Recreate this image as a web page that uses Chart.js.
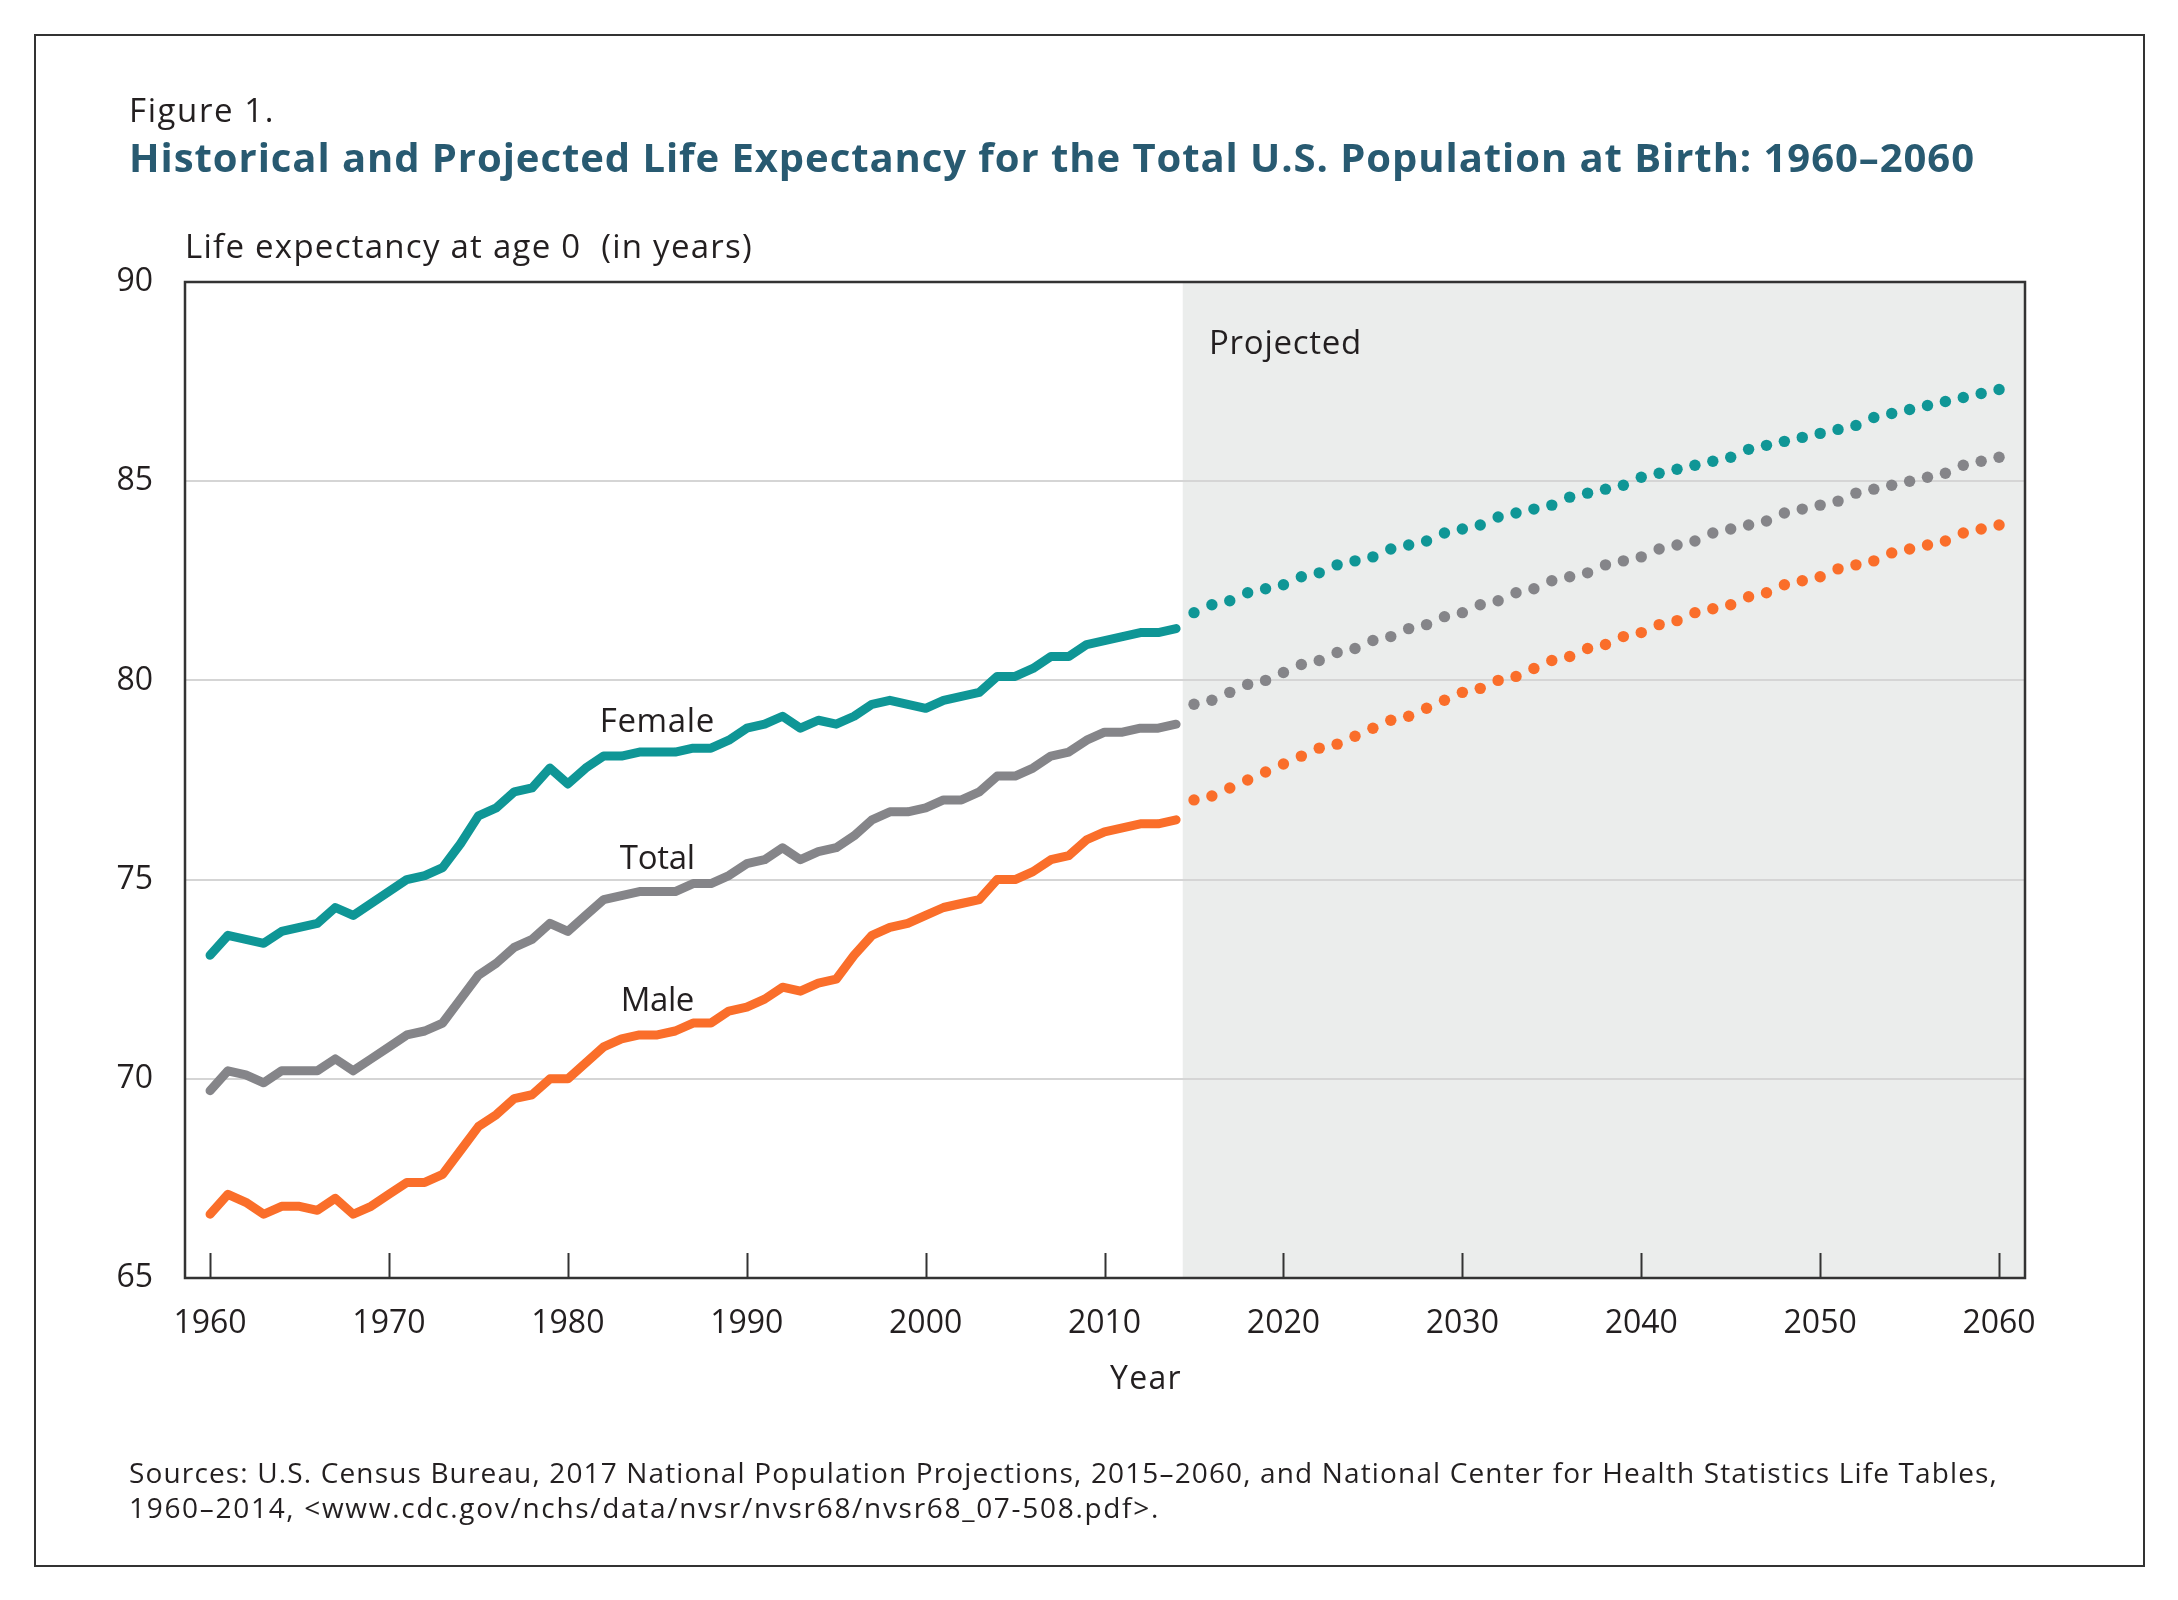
<!DOCTYPE html>
<html>
<head>
<meta charset="utf-8">
<script src="https://cdn.jsdelivr.net/npm/chart.js@4.4.1/dist/chart.umd.min.js"></script>
<style>
  body { margin: 0; width: 2178px; height: 1600px; background: #fff; position: relative; overflow: hidden;
         font-family: "Open Sans", sans-serif; color: #231f20; }
  #frame { position: absolute; left: 34px; top: 34px; width: 2111px; height: 1533px; box-sizing: border-box;
           border: 2.5px solid #333; }
  #chart { position: absolute; left: 0; top: 0; }
  .txt { position: absolute; white-space: pre; line-height: 1; z-index: 2; }
  #fig { left: 129px; top: 93px; font-size: 33px; }
  #title { left: 129px; top: 137px; font-size: 40px; font-weight: 700; color: #285a71; }
  #ytitle { left: 185px; top: 229px; font-size: 33px; }
  #xtitle { left: 1146px; top: 1361px; font-size: 32px; transform: translateX(-50%); }
  #src1 { left: 129px; top: 1458px; font-size: 28px; }
  #src2 { left: 129px; top: 1493px; font-size: 28px; }
</style>
</head>
<body>
<div id="frame"></div>
<canvas id="chart" width="2178" height="1600"></canvas>
<div class="txt" id="fig" data-w="146">Figure 1.</div>
<div class="txt" id="title" data-w="1846">Historical and Projected Life Expectancy for the Total U.S. Population at Birth: 1960–2060</div>
<div class="txt" id="ytitle" data-w="568">Life expectancy at age 0  (in years)</div>
<div class="txt" id="xtitle" data-w="72">Year</div>
<div class="txt" id="src1" data-w="1869">Sources: U.S. Census Bureau, 2017 National Population Projections, 2015–2060, and National Center for Health Statistics Life Tables,</div>
<div class="txt" id="src2" data-w="1031">1960–2014, &lt;www.cdc.gov/nchs/data/nvsr/nvsr68/nvsr68_07-508.pdf&gt;.</div>
<script>
// historical values (NCHS life tables)
const histYears = [1960,1961,1962,1963,1964,1965,1966,1967,1968,1969,
  1970,1971,1972,1973,1974,1975,1976,1977,1978,1979,
  1980,1981,1982,1983,1984,1985,1986,1987,1988,1989,
  1990,1991,1992,1993,1994,1995,1996,1997,1998,1999,
  2000,2001,2002,2003,2004,2005,2006,2007,2008,2009,
  2010,2011,2012,2013,2014];
const femaleHist = [73.1,73.6,73.5,73.4,73.7,73.8,73.9,74.3,74.1,74.4,
  74.7,75.0,75.1,75.3,75.9,76.6,76.8,77.2,77.3,77.8,
  77.4,77.8,78.1,78.1,78.2,78.2,78.2,78.3,78.3,78.5,
  78.8,78.9,79.1,78.8,79.0,78.9,79.1,79.4,79.5,79.4,
  79.3,79.5,79.6,79.7,80.1,80.1,80.3,80.6,80.6,80.9,
  81.0,81.1,81.2,81.2,81.3];
const totalHist = [69.7,70.2,70.1,69.9,70.2,70.2,70.2,70.5,70.2,70.5,
  70.8,71.1,71.2,71.4,72.0,72.6,72.9,73.3,73.5,73.9,
  73.7,74.1,74.5,74.6,74.7,74.7,74.7,74.9,74.9,75.1,
  75.4,75.5,75.8,75.5,75.7,75.8,76.1,76.5,76.7,76.7,
  76.8,77.0,77.0,77.2,77.6,77.6,77.8,78.1,78.2,78.5,
  78.7,78.7,78.8,78.8,78.9];
const maleHist = [66.6,67.1,66.9,66.6,66.8,66.8,66.7,67.0,66.6,66.8,
  67.1,67.4,67.4,67.6,68.2,68.8,69.1,69.5,69.6,70.0,
  70.0,70.4,70.8,71.0,71.1,71.1,71.2,71.4,71.4,71.7,
  71.8,72.0,72.3,72.2,72.4,72.5,73.1,73.6,73.8,73.9,
  74.1,74.3,74.4,74.5,75.0,75.0,75.2,75.5,75.6,76.0,
  76.2,76.3,76.4,76.4,76.5];

// projected values (2017 National Population Projections)
const projYears = [2015,2016,2017,2018,2019,2020,2021,2022,2023,2024,
  2025,2026,2027,2028,2029,2030,2031,2032,2033,2034,
  2035,2036,2037,2038,2039,2040,2041,2042,2043,2044,
  2045,2046,2047,2048,2049,2050,2051,2052,2053,2054,
  2055,2056,2057,2058,2059,2060];
const femaleProj = [81.7,81.9,82.0,82.2,82.3,82.4,82.6,82.7,82.9,83.0,
  83.1,83.3,83.4,83.5,83.7,83.8,83.9,84.1,84.2,84.3,
  84.4,84.6,84.7,84.8,84.9,85.1,85.2,85.3,85.4,85.5,
  85.6,85.8,85.9,86.0,86.1,86.2,86.3,86.4,86.6,86.7,
  86.8,86.9,87.0,87.1,87.2,87.3];
const totalProj = [79.4,79.5,79.7,79.9,80.0,80.2,80.4,80.5,80.7,80.8,
  81.0,81.1,81.3,81.4,81.6,81.7,81.9,82.0,82.2,82.3,
  82.5,82.6,82.7,82.9,83.0,83.1,83.3,83.4,83.5,83.7,
  83.8,83.9,84.0,84.2,84.3,84.4,84.5,84.7,84.8,84.9,
  85.0,85.1,85.2,85.4,85.5,85.6];
const maleProj = [77.0,77.1,77.3,77.5,77.7,77.9,78.1,78.3,78.4,78.6,
  78.8,79.0,79.1,79.3,79.5,79.7,79.8,80.0,80.1,80.3,
  80.5,80.6,80.8,80.9,81.1,81.2,81.4,81.5,81.7,81.8,
  81.9,82.1,82.2,82.4,82.5,82.6,82.8,82.9,83.0,83.2,
  83.3,83.4,83.5,83.7,83.8,83.9];

const xTicks = [1960,1970,1980,1990,2000,2010,2020,2030,2040,2050,2060];
const yTicks = [65,70,75,80,85,90];
const projectedFrom = 2014.37;

const TEAL = '#0f9696', GRAY = '#858589', ORANGE = '#fa6e2a';
const INK = '#231f20';

// fit html text widths to the reference
document.querySelectorAll('.txt').forEach(el => {
  const w = el.getBoundingClientRect().width;
  const n = el.textContent.length;
  el.style.letterSpacing = ((+el.dataset.w - w) / n) + 'px';
});

Chart.defaults.font.family = "'Open Sans', sans-serif";
Chart.defaults.color = INK;

const pts = (xs, ys) => xs.map((x, i) => ({ x: x, y: ys[i] }));

function hist(label, ys, color) {
  return { label: label, data: pts(histYears, ys), borderColor: color, borderWidth: 9,
    pointRadius: 0, tension: 0, borderJoinStyle: 'round', borderCapStyle: 'round' };
}
function proj(label, ys, color) {
  return { label: label, data: pts(projYears, ys), showLine: false, pointRadius: 5.7,
    pointBorderWidth: 0, pointBackgroundColor: color, pointBorderColor: color };
}

const notes = [
  { text: 'Female', x: 1985, y: 79.0, align: 'center', w: 115 },
  { text: 'Total', x: 1985, y: 75.56, align: 'center', w: 75 },
  { text: 'Male', x: 1985, y: 72.0, align: 'center', w: 73 },
  { text: 'Projected', x: 2015.84, y: 88.47, align: 'left', w: 153 }
];

const decor = {
  id: 'decor',
  beforeDraw(chart) {
    const { ctx, chartArea: a, scales: { x } } = chart;
    const px = x.getPixelForValue(projectedFrom);
    ctx.save();
    ctx.fillStyle = '#ebedec';
    ctx.fillRect(px, a.top, a.right - px, a.bottom - a.top);
    ctx.restore();
  },
  afterDatasetsDraw(chart) {
    const { ctx, chartArea: a, scales: { x, y } } = chart;
    ctx.save();
    // ticks inside the plot
    ctx.strokeStyle = '#333';
    ctx.lineWidth = 2;
    x.ticks.forEach(t => {
      const px = Math.round(x.getPixelForValue(t.value)) + 0.5;
      ctx.beginPath();
      ctx.moveTo(px, a.bottom);
      ctx.lineTo(px, a.bottom - 25);
      ctx.stroke();
    });
    // frame
    ctx.lineWidth = 2.5;
    ctx.strokeRect(a.left, a.top, a.right - a.left, a.bottom - a.top);
    // annotations
    ctx.fillStyle = INK;
    ctx.font = "33px 'Open Sans'";
    ctx.textBaseline = 'middle';
    notes.forEach(n => {
      ctx.letterSpacing = '0px';
      const m = ctx.measureText(n.text).width;
      ctx.letterSpacing = ((n.w - m) / n.text.length) + 'px';
      ctx.textAlign = n.align;
      ctx.fillText(n.text, x.getPixelForValue(n.x), y.getPixelForValue(n.y) + 2);
    });
    ctx.restore();
  }
};

new Chart(document.getElementById('chart'), {
  type: 'line',
  data: {
    datasets: [
      hist('Female', femaleHist, TEAL),
      hist('Total', totalHist, GRAY),
      hist('Male', maleHist, ORANGE),
      proj('Female projected', femaleProj, TEAL),
      proj('Total projected', totalProj, GRAY),
      proj('Male projected', maleProj, ORANGE)
    ]
  },
  options: {
    responsive: false,
    animation: false,
    layout: { padding: { top: 282, right: 153, bottom: 0, left: 0 } },
    plugins: { legend: { display: false }, tooltip: { enabled: false } },
    scales: {
      x: {
        type: 'linear', min: 1958.6, max: 2061.45,
        afterBuildTicks: s => { s.ticks = xTicks.map(v => ({ value: v })); },
        afterFit: s => { s.height = 322; },
        grid: { display: false },
        border: { display: false },
        ticks: { padding: 19, font: { size: 32 }, color: INK, maxRotation: 0, callback: v => String(v) }
      },
      y: {
        min: 65, max: 90,
        afterBuildTicks: s => { s.ticks = yTicks.map(v => ({ value: v })); },
        afterFit: s => { s.width = 185; },
        grid: { color: '#d5d5d5', lineWidth: 2, drawTicks: false },
        border: { display: false },
        ticks: { padding: 32, font: { size: 32 }, color: INK, callback: v => String(v) }
      }
    }
  },
  plugins: [decor]
});
</script>
</body>
</html>
